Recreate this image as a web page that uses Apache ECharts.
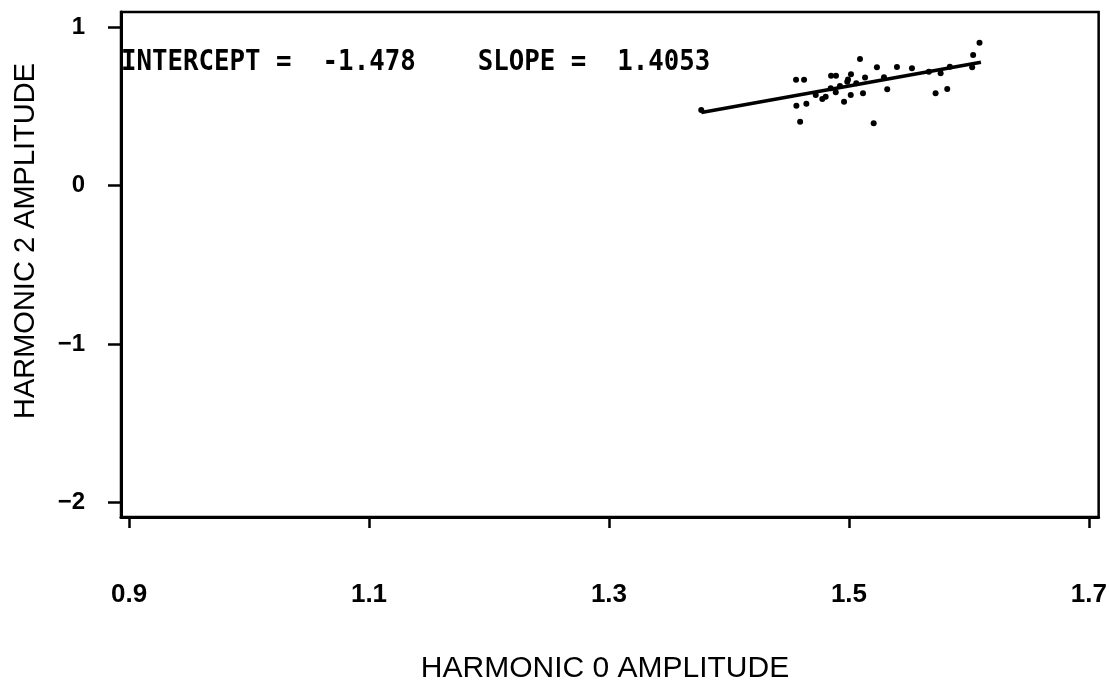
<!DOCTYPE html>
<html>
<head>
<meta charset="utf-8">
<script src="https://cdn.jsdelivr.net/npm/echarts@6/dist/echarts.min.js"></script>
<style>
html,body{margin:0;padding:0;background:#fff;}
#chart{width:1110px;height:684px;}
</style>
</head>
<body>
<div id="chart"></div>
<script>
// Scatter points: harmonic 0 amplitude (x) vs harmonic 2 amplitude (y)
const xValues = [1.3769,1.4559,1.4626,1.4851,1.4892,1.5092,1.5233,1.5017,1.4992,1.5134,
                 1.5292,1.5400,1.5525,1.5666,1.5764,1.5841,1.6027,1.6035,1.6088,1.4562,
                 1.4645,1.4723,1.4778,1.4806,1.4890,1.4959,1.5015,1.5061,1.5117,1.5319,
                 1.5722,1.5819,1.4593,1.5206,1.4986,1.4848,1.4925];
const yValues = [0.478,0.669,0.669,0.695,0.695,0.800,0.748,0.703,0.671,0.683,
                 0.685,0.750,0.741,0.720,0.710,0.751,0.748,0.825,0.903,0.505,
                 0.518,0.573,0.547,0.562,0.590,0.530,0.573,0.647,0.583,0.609,
                 0.583,0.611,0.404,0.394,0.657,0.615,0.629];
// Regression line endpoints
const lineX = [1.377, 1.610];
const lineY = [0.462, 0.780];
const xTicks = [0.9, 1.1, 1.3, 1.5, 1.7];
const yTicks = [-2, -1, 0, 1];
const annotation = 'INTERCEPT =  -1.478    SLOPE =  1.4053';
const xTitle = 'HARMONIC 0 AMPLITUDE';
const yTitle = 'HARMONIC 2 AMPLITUDE';

const points = xValues.map((x, i) => [x, yValues[i]]);
const linePts = lineX.map((x, i) => [x, lineY[i]]);

const chart = echarts.init(document.getElementById('chart'), null, {renderer: 'canvas'});
chart.setOption({
  backgroundColor: '#fff',
  animation: false,
  grid: {left: 121, right: 10, top: 12, bottom: 167, show: true, borderColor: '#000', borderWidth: 2.5, containLabel: false},
  xAxis: {
    type: 'value', min: 0.8933, max: 1.7081,
    axisLine: {show: true, onZero: false, lineStyle: {color: '#000', width: 3}},
    axisTick: {show: true, customValues: xTicks, length: 11, lineStyle: {color: '#000', width: 2.5}},
    axisLabel: {show: true, customValues: xTicks, formatter: v => v.toFixed(1), margin: 65,
      fontSize: 26, fontWeight: 'bold', color: '#000', fontFamily: 'Liberation Sans'},
    splitLine: {show: false}
  },
  yAxis: {
    type: 'value', min: -2.093, max: 1.097,
    axisLine: {show: true, onZero: false, lineStyle: {color: '#000', width: 3}},
    axisTick: {show: true, customValues: yTicks, length: 13, lineStyle: {color: '#000', width: 2.5}},
    axisLabel: {show: true, customValues: yTicks, formatter: v => String(v).replace('-', '\u2212'), margin: 36,
      fontSize: 24, fontWeight: 'bold', color: '#000', fontFamily: 'Liberation Sans'},
    splitLine: {show: false}
  },
  graphic: [
    {type: 'text', x: 121, y: 63, scaleX: 0.92,
      style: {text: annotation, fill: '#000', font: 'bold 28px "DejaVu Sans Mono"', textAlign: 'left', verticalAlign: 'middle'}},
    {type: 'text', x: 605, y: 669,
      style: {text: xTitle, fill: '#000', font: '30px "Liberation Sans"', textAlign: 'center', verticalAlign: 'middle'}},
    {type: 'text', x: 26, y: 241, rotation: Math.PI / 2,
      style: {text: yTitle, fill: '#000', font: '29px "Liberation Sans"', textAlign: 'center', verticalAlign: 'middle'}}
  ],
  series: [
    {type: 'scatter', data: points, symbol: 'circle', symbolSize: 6, itemStyle: {color: '#000', opacity: 1}},
    {type: 'line', data: linePts, symbol: 'none', lineStyle: {color: '#000', width: 3.5}}
  ]
});
</script>
</body>
</html>
